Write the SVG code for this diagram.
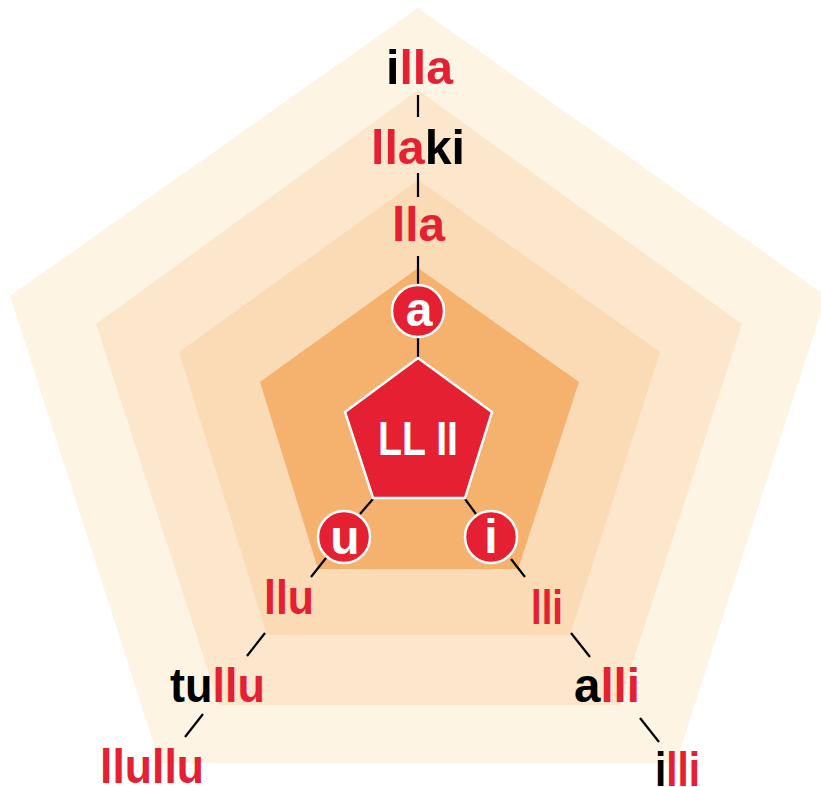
<svg xmlns="http://www.w3.org/2000/svg" width="821" height="787" viewBox="0 0 821 787">
<style>
.t{font-family:"Liberation Sans",Arial,sans-serif;font-weight:bold;font-size:48px;text-anchor:middle}
.r{fill:#e42032}
.k{fill:#000}
.w{fill:#fff}
.node{fill:#e42032;stroke:#fff;stroke-width:2.5}
.con line{stroke:#000;stroke-width:2.2}
</style>
<g id="layers">
<polygon points="418,8 826,296 676,763 160,763 10,296" fill="#fdf4e4"/>
<polygon points="418,90 742,324 619,705 219,705 96,324" fill="#fce7cc"/>
<polygon points="418,180 660,352 570,635 267,635 179,352" fill="#fadbb5"/>
<polygon points="418,268 579,382 518,569 318,569 260,382" fill="#f5b16e"/>
</g>
<g class="con" id="connectors">
<line x1="418" y1="95" x2="418" y2="117"/>
<line x1="418" y1="173" x2="418" y2="197"/>
<line x1="418" y1="256" x2="418" y2="285"/>
<line x1="418" y1="337" x2="418" y2="359"/>
<line x1="373" y1="499" x2="360" y2="514"/>
<line x1="326" y1="558" x2="311" y2="577"/>
<line x1="265" y1="633" x2="247" y2="656"/>
<line x1="203" y1="714" x2="185" y2="737"/>
<line x1="465" y1="499" x2="476" y2="514"/>
<line x1="511" y1="559" x2="525" y2="577"/>
<line x1="571" y1="633" x2="590" y2="657"/>
<line x1="640" y1="718" x2="659" y2="742"/>
</g>
<g id="node-center">
<polygon class="node" points="418,358 492,412 465,498 373,498 345,412" stroke-width="3"/>
<text class="t w" x="418" y="455" textLength="80" lengthAdjust="spacingAndGlyphs">LL II</text>
</g>
<g id="node-a">
<circle class="node" cx="418" cy="311" r="26"/>
<text class="t w" x="419" y="326" font-size="44">a</text>
</g>
<g id="node-u">
<circle class="node" cx="344" cy="537" r="26"/>
<text class="t w" x="345" y="554" font-size="50">u</text>
</g>
<g id="node-i">
<circle class="node" cx="491" cy="537" r="26"/>
<text class="t w" x="491" y="553" font-size="48">i</text>
</g>
<g id="node-illa"><text class="t" x="419.5" y="84" textLength="67" lengthAdjust="spacingAndGlyphs"><tspan class="k">i</tspan><tspan class="r">lla</tspan></text></g>
<g id="node-llaki"><text class="t" x="418" y="164" textLength="94" lengthAdjust="spacingAndGlyphs"><tspan class="r">lla</tspan><tspan class="k">ki</tspan></text></g>
<g id="node-lla"><text class="t r" x="418.5" y="241" textLength="53" lengthAdjust="spacingAndGlyphs">lla</text></g>
<g id="node-llu"><text class="t r" x="289" y="614" textLength="50" lengthAdjust="spacingAndGlyphs">llu</text></g>
<g id="node-tullu"><text class="t" x="217.5" y="702" textLength="95" lengthAdjust="spacingAndGlyphs"><tspan class="k">tu</tspan><tspan class="r">llu</tspan></text></g>
<g id="node-llullu"><text class="t r" x="152" y="783" textLength="104" lengthAdjust="spacingAndGlyphs">llullu</text></g>
<g id="node-lli"><text class="t r" x="547" y="624" textLength="32" lengthAdjust="spacingAndGlyphs">lli</text></g>
<g id="node-alli"><text class="t" x="607" y="702" textLength="66" lengthAdjust="spacingAndGlyphs"><tspan class="k">a</tspan><tspan class="r">lli</tspan></text></g>
<g id="node-illi"><text class="t" x="677.5" y="786" textLength="45" lengthAdjust="spacingAndGlyphs"><tspan class="k">i</tspan><tspan class="r">lli</tspan></text></g>
</svg>
